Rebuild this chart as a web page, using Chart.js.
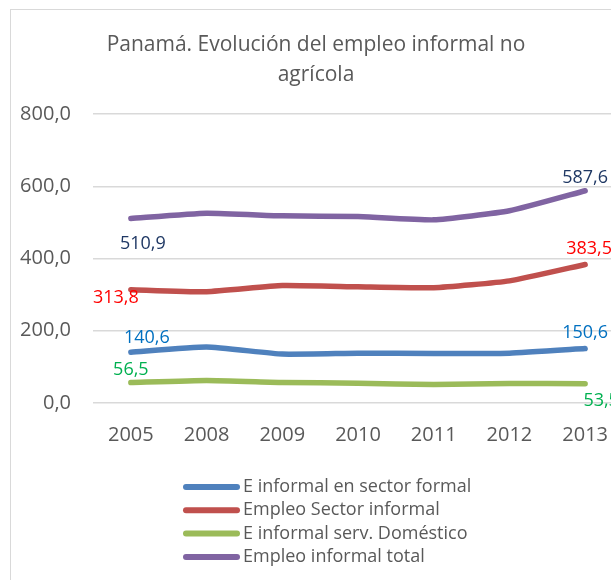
<!DOCTYPE html>
<html>
<head>
<meta charset="utf-8">
<script src="https://cdn.jsdelivr.net/npm/chart.js@4.4.1/dist/chart.umd.min.js"></script>
<style>
  html, body { margin: 0; padding: 0; background: #fff; overflow: hidden; }
  #wrap { position: relative; width: 632px; height: 580px; }
  #frame { position: absolute; left: 10px; top: 9px; width: 700px; height: 700px; border: 1px solid #D9D9D9; box-sizing: border-box; }
  canvas { position: absolute; left: 0; top: 0; }
</style>
</head>
<body>
<div id="wrap">
  <div id="frame"></div>
  <canvas id="chart" width="632" height="580"></canvas>
</div>
<script>
const years = ['2005', '2008', '2009', '2010', '2011', '2012', '2013'];
const seriesNames = ['E informal en sector formal', 'Empleo Sector informal', 'E informal serv. Doméstico', 'Empleo informal total'];
const informalFormal = [140.6, 155, 135.5, 138, 137, 138, 150.6];
const sectorInformal = [313.8, 308, 325, 321.5, 319, 338, 383.5];
const servDomestico = [56.5, 62.5, 57, 55, 51, 54, 53.5];
const informalTotal = [510.9, 525.5, 518, 516, 507, 532, 587.6];
const yTicks = [0, 200, 400, 600, 800];

const fmt = v => v.toFixed(1).replace('.', ',');
const grey = '#595959';
const font = '"Open Sans", "Noto Sans", sans-serif';

// label placement for first and last point of each series: [dx, dy] from the point
const labelStyle = [
  { color: '#0070C0', first: [16, -14], last: [0, -16] },
  { color: '#FF0000', first: [-15, 8], last: [4, -16] },
  { color: '#00B050', first: [0, -13], last: [16, 17] },
  { color: '#1F3864', first: [12, 25], last: [0, -13] }
];

const overlay = {
  id: 'overlay',
  afterDatasetsDraw(chart) {
    const c = chart.ctx;
    c.save();
    // title
    c.fillStyle = grey;
    c.font = '21px ' + font;
    c.textAlign = 'center';
    c.textBaseline = 'middle';
    c.fillText('Panamá. Evolución del empleo informal no', 316, 45);
    c.fillText('agrícola', 316, 75);

    // data labels
    c.font = '18px ' + font;
    chart.data.datasets.forEach((ds, i) => {
      const pts = chart.getDatasetMeta(i).data;
      const st = labelStyle[i];
      c.fillStyle = st.color;
      const last = pts.length - 1;
      c.fillText(fmt(ds.data[0]), pts[0].x + st.first[0], pts[0].y + st.first[1]);
      c.fillText(fmt(ds.data[last]), pts[last].x + st.last[0], pts[last].y + st.last[1]);
    });

    // legend
    c.font = '18px ' + font;
    c.textAlign = 'left';
    c.lineCap = 'round';
    chart.data.datasets.forEach((ds, i) => {
      const y = 487 + i * 23.3;
      c.strokeStyle = ds.borderColor;
      c.lineWidth = 6;
      c.beginPath();
      c.moveTo(186, y);
      c.lineTo(237, y);
      c.stroke();
      c.fillStyle = grey;
      c.fillText(ds.label, 243, y);
    });
    c.restore();
  }
};

const colors = ['#4F81BD', '#C0504D', '#9BBB59', '#8064A2'];
const values = [informalFormal, sectorInformal, servDomestico, informalTotal];

new Chart(document.getElementById('chart'), {
  type: 'line',
  data: {
    labels: years,
    datasets: values.map((v, i) => ({
      label: seriesNames[i],
      data: v,
      borderColor: colors[i],
      backgroundColor: colors[i],
      borderWidth: 5.5,
      borderCapStyle: 'round',
      borderJoinStyle: 'round',
      pointRadius: 0,
      tension: 0.15
    }))
  },
  options: {
    responsive: false,
    animation: false,
    layout: { padding: { top: 114, right: 9, left: 0, bottom: 0 } },
    plugins: {
      legend: { display: false },
      title: { display: false },
      tooltip: { enabled: false }
    },
    scales: {
      x: {
        offset: true,
        grid: { display: false, drawTicks: false },
        border: { display: false },
        ticks: { color: grey, font: { family: font, size: 20 }, padding: 20 },
        afterFit: s => { s.height = 177; }
      },
      y: {
        min: 0,
        max: 800,
        afterBuildTicks: s => { s.ticks = yTicks.map(v => ({ value: v })); },
        grid: { color: '#D9D9D9', lineWidth: 1.5, drawTicks: false },
        border: { display: false },
        ticks: { color: grey, font: { family: font, size: 20 }, padding: 22, callback: v => fmt(v) },
        afterFit: s => { s.width = 93; }
      }
    }
  },
  plugins: [overlay]
});
</script>
</body>
</html>
